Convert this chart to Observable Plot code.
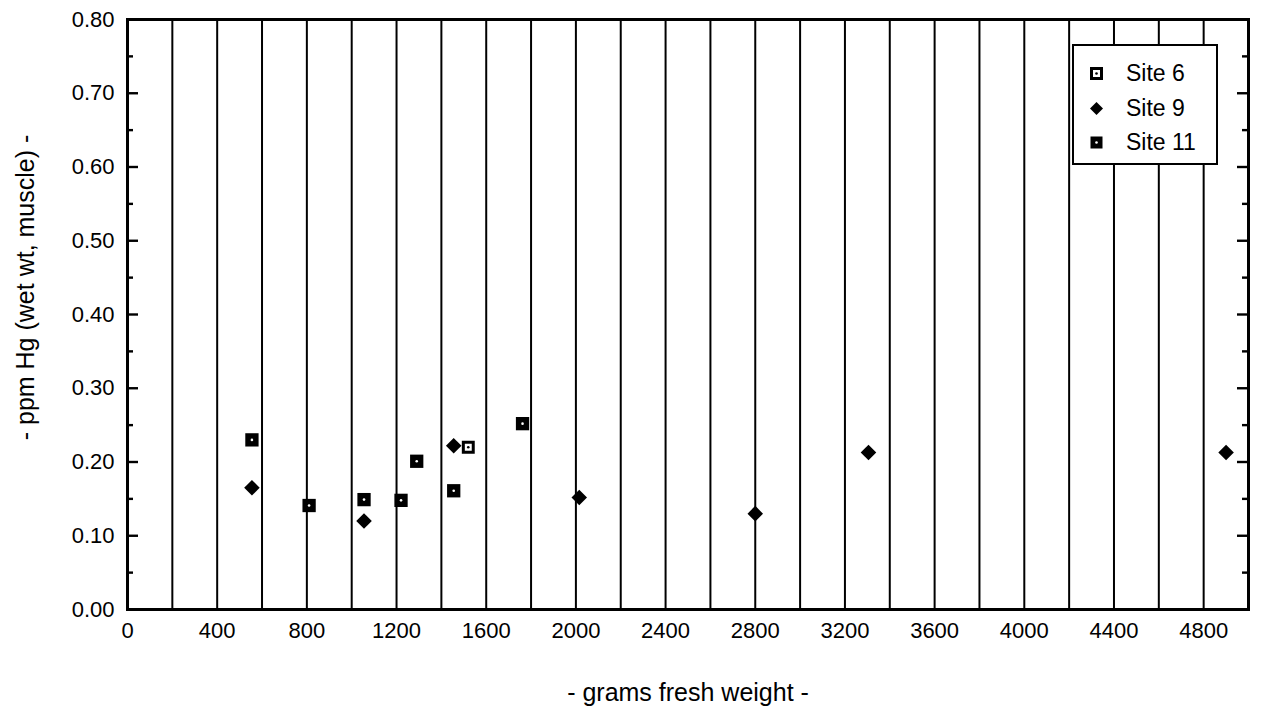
<!DOCTYPE html>
<html>
<head>
<meta charset="utf-8">
<script src="https://cdn.jsdelivr.net/npm/d3@7"></script>
<script src="https://cdn.jsdelivr.net/npm/@observablehq/plot@0.6"></script>
<style>
  html, body { margin: 0; padding: 0; background: #fff; }
  #wrap { position: relative; width: 1266px; height: 713px; font-family: "Liberation Sans", Arial, Helvetica, sans-serif; }
  #legend { position: absolute; left: 1072px; top: 44px; width: 142px; height: 117px; border: 2.6px solid #000; background: #fff; }
  .item { position: absolute; left: 0; height: 26px; display: flex; align-items: center; font-size: 23px; color: #000; }
  .item svg { margin-left: 16px; margin-right: 23px; }
</style>
</head>
<body>
<div id="wrap"></div>
<script>
// ---- data ----
const site6X = [1520];
const site6Y = [0.22];
const site9X = [555, 1055, 1455, 2015, 2800, 3305, 4900];
const site9Y = [0.165, 0.12, 0.222, 0.152, 0.13, 0.213, 0.213];
const site11X = [555, 810, 1055, 1220, 1290, 1455, 1762];
const site11Y = [0.23, 0.141, 0.149, 0.148, 0.201, 0.161, 0.252];

const xTicks = [0, 400, 800, 1200, 1600, 2000, 2400, 2800, 3200, 3600, 4000, 4400, 4800];
const xGrid = [200, 400, 600, 800, 1000, 1200, 1400, 1600, 1800, 2000, 2200, 2400, 2600, 2800, 3000, 3200, 3400, 3600, 3800, 4000, 4200, 4400, 4600, 4800];
const yTicks = [0, 0.1, 0.2, 0.3, 0.4, 0.5, 0.6, 0.7, 0.8];
const yMinor = [0.05, 0.15, 0.25, 0.35, 0.45, 0.55, 0.65, 0.75];
const legendLabels = ["Site 6", "Site 9", "Site 11"];
const xTitle = "- grams fresh weight -";
const yTitle = "- ppm Hg (wet wt, muscle) -";

const toRows = (xs, ys) => xs.map((x, i) => ({x, y: ys[i]}));
const s6 = toRows(site6X, site6Y);
const s9 = toRows(site9X, site9Y);
const s11 = toRows(site11X, site11Y);

const W = 1266, H = 713;
const mL = 127, mR = 18, mT = 19, mB = 104;
const pw = W - mL - mR;

const chart = Plot.plot({
  width: W, height: H,
  marginLeft: mL, marginRight: mR, marginTop: mT, marginBottom: mB,
  x: {domain: [0, 5000]},
  y: {domain: [0, 0.8]},
  style: {fontFamily: "'Liberation Sans', Arial, Helvetica, sans-serif", fontSize: "22px", color: "#000", background: "#fff"},
  marks: [
    Plot.ruleX(xGrid, {x: d => d, stroke: "#000", strokeWidth: 2}),
    Plot.tickY(yTicks, {y: d => d, insetRight: pw - 11, stroke: "#000", strokeWidth: 2.4}),
    Plot.tickY(yMinor, {y: d => d, insetRight: pw - 6, stroke: "#000", strokeWidth: 2.4}),
    Plot.tickY(yTicks, {y: d => d, insetLeft: pw - 11, stroke: "#000", strokeWidth: 2.4}),
    Plot.tickY(yMinor, {y: d => d, insetLeft: pw - 6, stroke: "#000", strokeWidth: 2.4}),
    Plot.axisX(xTicks, {tickSize: 0, tickPadding: 13, tickFormat: d => String(d), fontSize: 22, label: null}),
    Plot.axisY(yTicks, {tickSize: 0, tickPadding: 13, tickFormat: d3.format(".2f"), fontSize: 22, label: null}),
    Plot.frame({stroke: "#000", strokeWidth: 3}),
    Plot.text([xTitle], {frameAnchor: "bottom", dy: 83, lineAnchor: "middle", textAnchor: "middle", fontSize: 25, text: d => d}),
    Plot.text([yTitle], {frameAnchor: "left", dx: -102, dy: -27, rotate: -90, lineAnchor: "middle", textAnchor: "middle", fontSize: 25, text: d => d}),
    // Site 9 diamonds
    Plot.dot(s9, {x: "x", y: "y", symbol: "diamond2", r: 7, fill: "#000", stroke: "none"}),
    // Site 11 filled squares with white centre
    Plot.dot(s11, {x: "x", y: "y", symbol: "square", r: 7.5, fill: "#000", stroke: "none"}),
    Plot.dot(s11, {x: "x", y: "y", r: 1.3, fill: "#fff", stroke: "none"}),
    // Site 6 open square with black centre
    Plot.dot(s6, {x: "x", y: "y", symbol: "square", r: 5.6, fill: "#fff", stroke: "#000", strokeWidth: 3}),
    Plot.dot(s6, {x: "x", y: "y", r: 1.3, fill: "#000", stroke: "none"})
  ]
});

const wrap = document.getElementById("wrap");
wrap.appendChild(chart);

// legend inside the plot area
const legend = document.createElement("div");
legend.id = "legend";
const symbols = [
  '<svg width="13" height="13" viewBox="0 0 13 13"><rect x="1.5" y="1.5" width="10" height="10" fill="#fff" stroke="#000" stroke-width="3"/><circle cx="6.5" cy="6.5" r="1.3" fill="#000"/></svg>',
  '<svg width="13" height="13" viewBox="0 0 13 13"><path d="M6.5 0 L13 6.5 L6.5 13 L0 6.5 Z" fill="#000"/></svg>',
  '<svg width="13" height="13" viewBox="0 0 13 13"><rect x="0.5" y="0.5" width="12" height="12" fill="#000"/><circle cx="6.5" cy="6.5" r="1.3" fill="#fff"/></svg>'
];
const rowTops = [14, 49, 83];
legendLabels.forEach((lab, i) => {
  const it = document.createElement("div");
  it.className = "item";
  it.style.top = rowTops[i] + "px";
  it.innerHTML = symbols[i] + "<span>" + lab + "</span>";
  legend.appendChild(it);
});
wrap.appendChild(legend);
</script>
</body>
</html>
